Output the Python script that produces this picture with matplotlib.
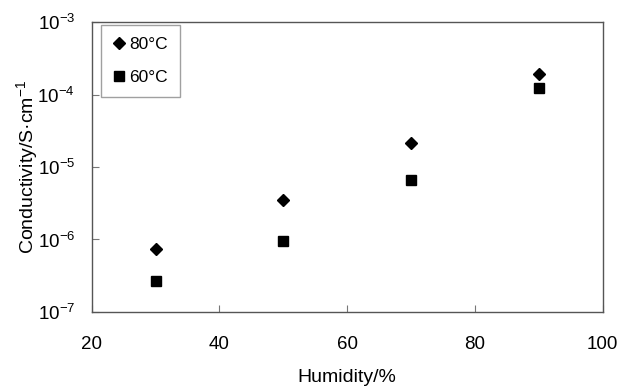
import numpy as np
import matplotlib
matplotlib.use('Agg')
import matplotlib.pyplot as plt
from matplotlib.ticker import FixedLocator, FuncFormatter, NullLocator

plt.rcParams['font.family'] = ['Liberation Sans', 'DejaVu Sans']
plt.rcParams['mathtext.fontset'] = 'custom'
plt.rcParams['mathtext.rm'] = 'Liberation Sans'
plt.rcParams['mathtext.it'] = 'Liberation Sans'

humidity = [30, 50, 70, 90]
cond_80 = [7.3e-7, 3.5e-6, 2.15e-5, 1.9e-4]
cond_60 = [2.65e-7, 9.4e-7, 6.7e-6, 1.25e-4]

x_ticks = [20, 40, 60, 80, 100]
y_ticks = [1e-7, 1e-6, 1e-5, 1e-4, 1e-3]

fig = plt.figure(figsize=(6.24, 3.88), dpi=100)
ax = fig.add_axes([0.147, 0.196, 0.819, 0.747])

ax.plot(humidity, cond_80, linestyle='none', marker='D', markersize=6.6,
        color='black', label='80°C')
ax.plot(humidity, cond_60, linestyle='none', marker='s', markersize=7.8,
        color='black', label='60°C')

ax.set_yscale('log')
ax.set_xlim(20, 100)
ax.set_ylim(1e-7, 1e-3)
ax.xaxis.set_major_locator(FixedLocator(x_ticks))
ax.yaxis.set_major_locator(FixedLocator(y_ticks))
ax.yaxis.set_minor_locator(NullLocator())
ax.yaxis.set_major_formatter(FuncFormatter(
    lambda v, p: r'$\mathregular{10^{%d}}$' % round(np.log10(v))))

ax.tick_params(direction='in', length=5, width=0.8, color='#777777',
               labelsize=13.5)
ax.tick_params(axis='x', pad=17)
ax.tick_params(axis='y', pad=12)
for s in ax.spines.values():
    s.set_color('#555555')
    s.set_linewidth(1.0)

ax.set_xlabel('Humidity/%', fontsize=14, labelpad=12)
ax.set_ylabel('Conductivity/S\u00b7cm$^{-1}$', fontsize=14, labelpad=-2)

leg = ax.legend(loc='upper left', bbox_to_anchor=(0.019, 0.99),
                fontsize=12.5, frameon=True, fancybox=False,
                borderaxespad=0, handlelength=0.6, handletextpad=0.3,
                borderpad=0.7, labelspacing=1.0)
leg.get_frame().set_edgecolor('#888888')
leg.get_frame().set_linewidth(1.0)

fig.savefig('out.png', dpi=100)
